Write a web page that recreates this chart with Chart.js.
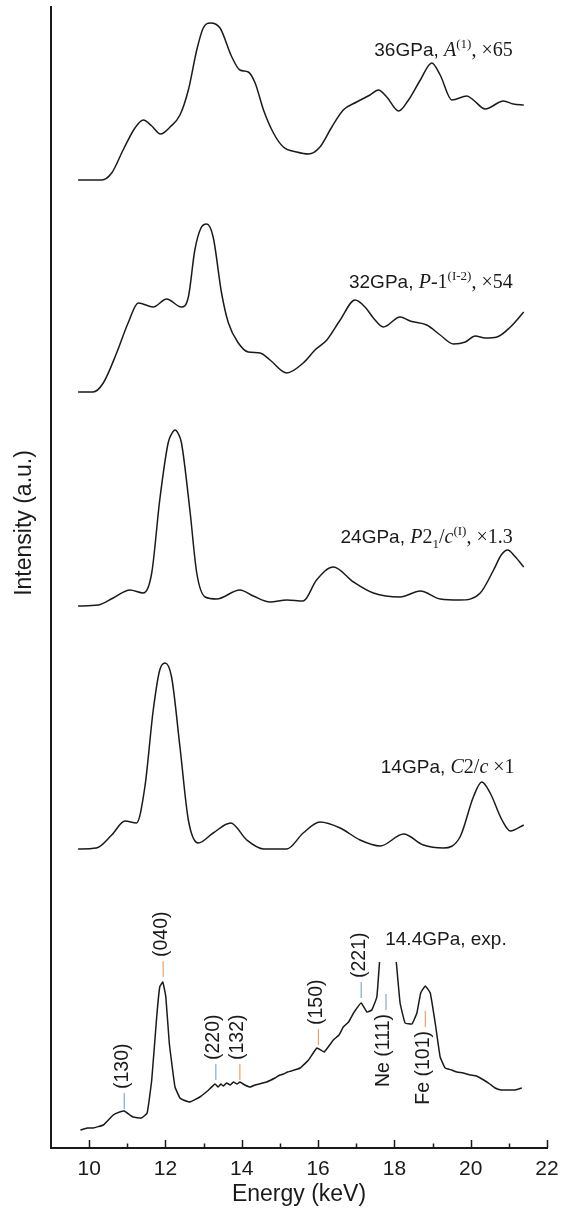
<!DOCTYPE html>
<html>
<head>
<meta charset="utf-8">
<script src="https://cdn.jsdelivr.net/npm/chart.js@4.4.1/dist/chart.umd.min.js"></script>
<style>
  html, body { margin: 0; padding: 0; background: #fff; }
  #wrap { width: 561px; height: 1211px; }
</style>
</head>
<body>
<div id="wrap"><canvas id="chart"></canvas></div>
<script>
const xTicks = [10, 12, 14, 16, 18, 20, 22];
const xMinorTicks = [11, 13, 15, 17, 19, 21];

// simulated spectra, intensity relative to own baseline (a.u.)
const e36 = [9.71, 10.33, 10.59, 10.89, 11.20, 11.42, 11.64, 11.87, 12.12, 12.38, 12.60, 12.82, 12.99, 13.18, 13.43, 13.74, 13.95, 14.17, 14.35, 14.57, 14.83, 15.09, 15.44, 15.75, 16.05, 16.36, 16.66, 17.01, 17.36, 17.58, 17.80, 18.11, 18.37, 18.68, 18.98, 19.20, 19.51, 19.90, 20.07, 20.38, 20.86, 21.12, 21.39];
const i36 = [0, 0, 7, 30, 52, 60, 54, 46, 53, 65, 90, 130, 152, 157, 152, 123, 110, 108, 97, 70, 47, 33, 28, 26, 33, 53, 70, 78, 85, 90, 83, 69, 80, 100, 117, 105, 80, 84, 80, 71, 79, 76, 75];

const e32 = [9.71, 10.10, 10.37, 10.72, 11.02, 11.29, 11.68, 12.03, 12.42, 12.60, 12.77, 12.93, 13.08, 13.25, 13.47, 13.65, 13.91, 14.17, 14.48, 14.74, 15.18, 15.61, 15.92, 16.23, 16.58, 16.97, 17.23, 17.45, 17.71, 18.15, 18.41, 18.85, 19.20, 19.55, 19.86, 20.12, 20.38, 20.69, 21.04, 21.39];
const i32 = [1, 1, 10, 40, 70, 90, 86, 94, 86, 96, 143, 165, 169, 156, 100, 70, 50, 41, 40, 33, 20, 30, 43, 53, 73, 93, 86, 75, 66, 76, 72, 68, 58, 49, 51, 57, 55, 56, 66, 81];

const e24 = [9.71, 10.24, 10.63, 11.07, 11.42, 11.64, 11.85, 12.07, 12.16, 12.25, 12.34, 12.42, 12.64, 12.82, 13.04, 13.34, 13.95, 14.30, 14.74, 15.18, 15.61, 15.96, 16.40, 16.93, 17.45, 18.15, 18.68, 19.20, 19.72, 20.25, 20.60, 20.80, 20.97, 21.15, 21.39];
const i24 = [0, 1, 8, 16, 13, 33, 106, 163, 172, 176, 172, 163, 96, 33, 9, 7, 16, 10, 4, 6, 5, 26, 39, 24, 13, 9, 15, 7, 6, 13, 36, 51, 56, 50, 39];

const e14 = [9.71, 10.19, 10.59, 10.94, 11.24, 11.46, 11.68, 11.85, 11.99, 12.16, 12.38, 12.60, 12.86, 13.25, 13.71, 14.13, 14.57, 15.18, 15.61, 16.05, 16.58, 17.10, 17.63, 18.24, 18.76, 19.29, 19.72, 20.07, 20.29, 20.51, 20.82, 21.04, 21.39];
const i14 = [1, 2, 15, 29, 27, 63, 140, 180, 187, 173, 103, 30, 7, 17, 27, 10, 1, 1, 17, 28, 22, 10, 4, 16, 5, 2, 13, 53, 68, 57, 30, 19, 25];

// experiment at 14.4 GPa; the Ne (111) peak is cut off (null)
const eExp = [9.77, 9.95, 10.10, 10.37, 10.63, 10.80, 10.92, 11.15, 11.37, 11.52, 11.64, 11.77, 11.85, 11.93, 12.01, 12.10, 12.25, 12.38, 12.47, 12.64, 12.90, 13.10, 13.30, 13.38, 13.45, 13.52, 13.60, 13.70, 13.78, 13.88, 13.95, 14.08, 14.22, 14.35, 14.45, 14.65, 14.87, 15.00, 15.09, 15.20, 15.30, 15.53, 15.75, 15.97, 16.16, 16.40, 16.55, 16.66, 16.80, 16.93, 17.13, 17.28, 17.41, 17.54, 17.61, 17.80, 18.05, 18.15, 18.28, 18.46, 18.59, 18.69, 18.81, 18.94, 19.07, 19.20, 19.33, 19.50, 19.64, 19.80, 19.99, 20.15, 20.34, 20.50, 20.64, 20.80, 20.95, 21.17, 21.34];
const iExp = [18, 20, 20, 23, 33, 36, 37, 31, 30, 35, 68, 131, 161, 166, 151, 105, 61, 50, 48, 46, 51, 57, 64, 61, 64, 62, 65, 63, 66, 64, 66, 63, 61, 63, 64, 66, 70, 73, 74, 76, 77, 80, 88, 100, 96, 108, 113, 121, 126, 135, 145, 136, 138, 151, 186, null, 186, 145, 125, 124, 135, 155, 162, 155, 125, 91, 80, 78, 76, 75, 73, 72, 68, 64, 60, 58, 58, 58, 60];

// vertical stacking offsets (a.u.)
const seriesNames = ["36GPa", "32GPa", "24GPa", "14GPa", "14.4GPa exp"];
const offsets = [968, 755, 542, 298, 0];

// reflection markers on the experimental pattern
const peakNames = ["(130)", "(040)", "(220)", "(132)", "(150)", "(221)", "Ne (111)", "Fe (101)"];
const peakE = [10.92, 11.94, 13.32, 13.95, 16.01, 17.13, 17.78, 18.81];
const peakLow = [39, 171, 68, 68, 103, 150, 138, 121];

const SANS = '"Liberation Sans", Arial, sans-serif';
const SERIF = '"Liberation Serif", "Times New Roman", serif';
const INK = "#1a1a1a";
const BLUE = "#86a6d4";
const ORANGE = "#e9a26a";
const markerColors = [BLUE, ORANGE, BLUE, ORANGE, ORANGE, BLUE, BLUE, ORANGE];
const markerBelow = [false, false, false, false, false, false, true, true];

const curveLabels = [
  { rightE: 21.1, y: 1092, parts: [["36GPa, ", "sans"], ["A", "ital"], ["(1)", "sup"], [", ×65", "serif"]] },
  { rightE: 21.1, y: 860, parts: [["32GPa, ", "sans"], ["P", "ital"], ["-1", "serif"], ["(I-2)", "sup"], [", ×54", "serif"]] },
  { rightE: 21.1, y: 605, parts: [["24GPa, ", "sans"], ["P", "ital"], ["2", "serif"], ["1", "sub"], ["/", "serif"], ["c", "ital"], ["(I)", "sup"], [", ×1.3", "serif"]] },
  { rightE: 21.15, y: 375, parts: [["14GPa, ", "sans"], ["C", "ital"], ["2/", "serif"], ["c", "ital"], [" ×1", "serif"]] },
  { leftE: 17.76, y: 203, parts: [["14.4GPa, exp.", "sans"]] },
];

const partStyle = {
  sans: { font: `19px ${SANS}`, dy: 0 },
  serif: { font: `20px ${SERIF}`, dy: 0 },
  ital: { font: `italic 20px ${SERIF}`, dy: 0 },
  sup: { font: `13px ${SERIF}`, dy: -8 },
  sub: { font: `13px ${SERIF}`, dy: 5 },
};

function toPoints(es, is, off) {
  return es.map((e, k) => ({ x: e, y: is[k] == null ? null : is[k] + off }));
}

const seriesE = [e36, e32, e24, e14, eExp];
const seriesI = [i36, i32, i24, i14, iExp];

const decorPlugin = {
  id: "decor",
  afterDraw(chart) {
    const { ctx, chartArea } = chart;
    const xs = chart.scales.x;
    const ys = chart.scales.y;
    ctx.save();

    // inward tick marks
    ctx.strokeStyle = INK;
    ctx.lineWidth = 1.5;
    const drawTick = (v, len) => {
      const px = Math.round(xs.getPixelForValue(v)) + 0.5;
      ctx.beginPath();
      ctx.moveTo(px, chartArea.bottom);
      ctx.lineTo(px, chartArea.bottom - len);
      ctx.stroke();
    };
    xTicks.forEach((v) => drawTick(v, 8));
    xMinorTicks.forEach((v) => drawTick(v, 4.5));

    // reflection markers
    ctx.font = `19.5px ${SANS}`;
    ctx.fillStyle = INK;
    ctx.textBaseline = "middle";
    peakNames.forEach((name, k) => {
      const px = xs.getPixelForValue(peakE[k]);
      const low = ys.getPixelForValue(peakLow[k]);
      const high = low - 16;
      ctx.strokeStyle = markerColors[k];
      ctx.lineWidth = 1.2;
      ctx.beginPath();
      ctx.moveTo(px, low);
      ctx.lineTo(px, high);
      ctx.stroke();
      ctx.save();
      if (markerBelow[k]) {
        ctx.translate(px - 2, low + 4);
        ctx.rotate(-Math.PI / 2);
        ctx.textAlign = "right";
      } else {
        ctx.translate(px - 2, high - 4);
        ctx.rotate(-Math.PI / 2);
        ctx.textAlign = "left";
      }
      ctx.fillText(name, 0, 0);
      ctx.restore();
    });

    // curve labels
    ctx.textBaseline = "alphabetic";
    ctx.textAlign = "left";
    curveLabels.forEach((lab) => {
      const widths = lab.parts.map(([t, kind]) => {
        ctx.font = partStyle[kind].font;
        return ctx.measureText(t).width;
      });
      const total = widths.reduce((a, b) => a + b, 0);
      let x = lab.rightE != null ? xs.getPixelForValue(lab.rightE) - total : xs.getPixelForValue(lab.leftE);
      const y = ys.getPixelForValue(lab.y);
      lab.parts.forEach(([t, kind], k) => {
        ctx.font = partStyle[kind].font;
        ctx.fillText(t, x, y + partStyle[kind].dy);
        x += widths[k];
      });
    });

    // y-axis title
    ctx.save();
    ctx.translate(25, 523);
    ctx.rotate(-Math.PI / 2);
    ctx.font = `23px ${SANS}`;
    ctx.textAlign = "center";
    ctx.textBaseline = "middle";
    ctx.fillText("Intensity (a.u.)", 0, 0);
    ctx.restore();

    ctx.restore();
  },
};

new Chart(document.getElementById("chart"), {
  type: "line",
  data: {
    datasets: seriesNames.map((name, k) => ({
      label: name,
      data: toPoints(seriesE[k], seriesI[k], offsets[k]),
      borderColor: INK,
      borderWidth: 1.5,
      pointRadius: 0,
      fill: false,
      spanGaps: false,
      cubicInterpolationMode: k < 4 ? "monotone" : "default",
      tension: k < 4 ? 0.4 : 0.1,
    })),
  },
  options: {
    responsive: true,
    maintainAspectRatio: false,
    animation: false,
    layout: { padding: { left: 51, right: 14, top: 7, bottom: 0 } },
    plugins: { legend: { display: false }, tooltip: { enabled: false } },
    scales: {
      x: {
        type: "linear",
        min: 9,
        max: 22,
        afterBuildTicks: (scale) => { scale.ticks = xTicks.map((v) => ({ value: v })); },
        grid: { display: false, drawTicks: false },
        border: { display: true, color: INK, width: 2 },
        ticks: { padding: 0, color: INK, font: { family: SANS, size: 21, lineHeight: 2 } },
        title: { display: true, text: "Energy (keV)", color: INK, font: { family: SANS, size: 23 }, padding: { top: -8.8, bottom: 2.2 } },
      },
      y: {
        min: 0,
        max: 1141,
        grid: { display: false, drawTicks: false },
        ticks: { display: false },
        border: { display: true, color: INK, width: 2 },
      },
    },
  },
  plugins: [decorPlugin],
});
</script>
</body>
</html>
